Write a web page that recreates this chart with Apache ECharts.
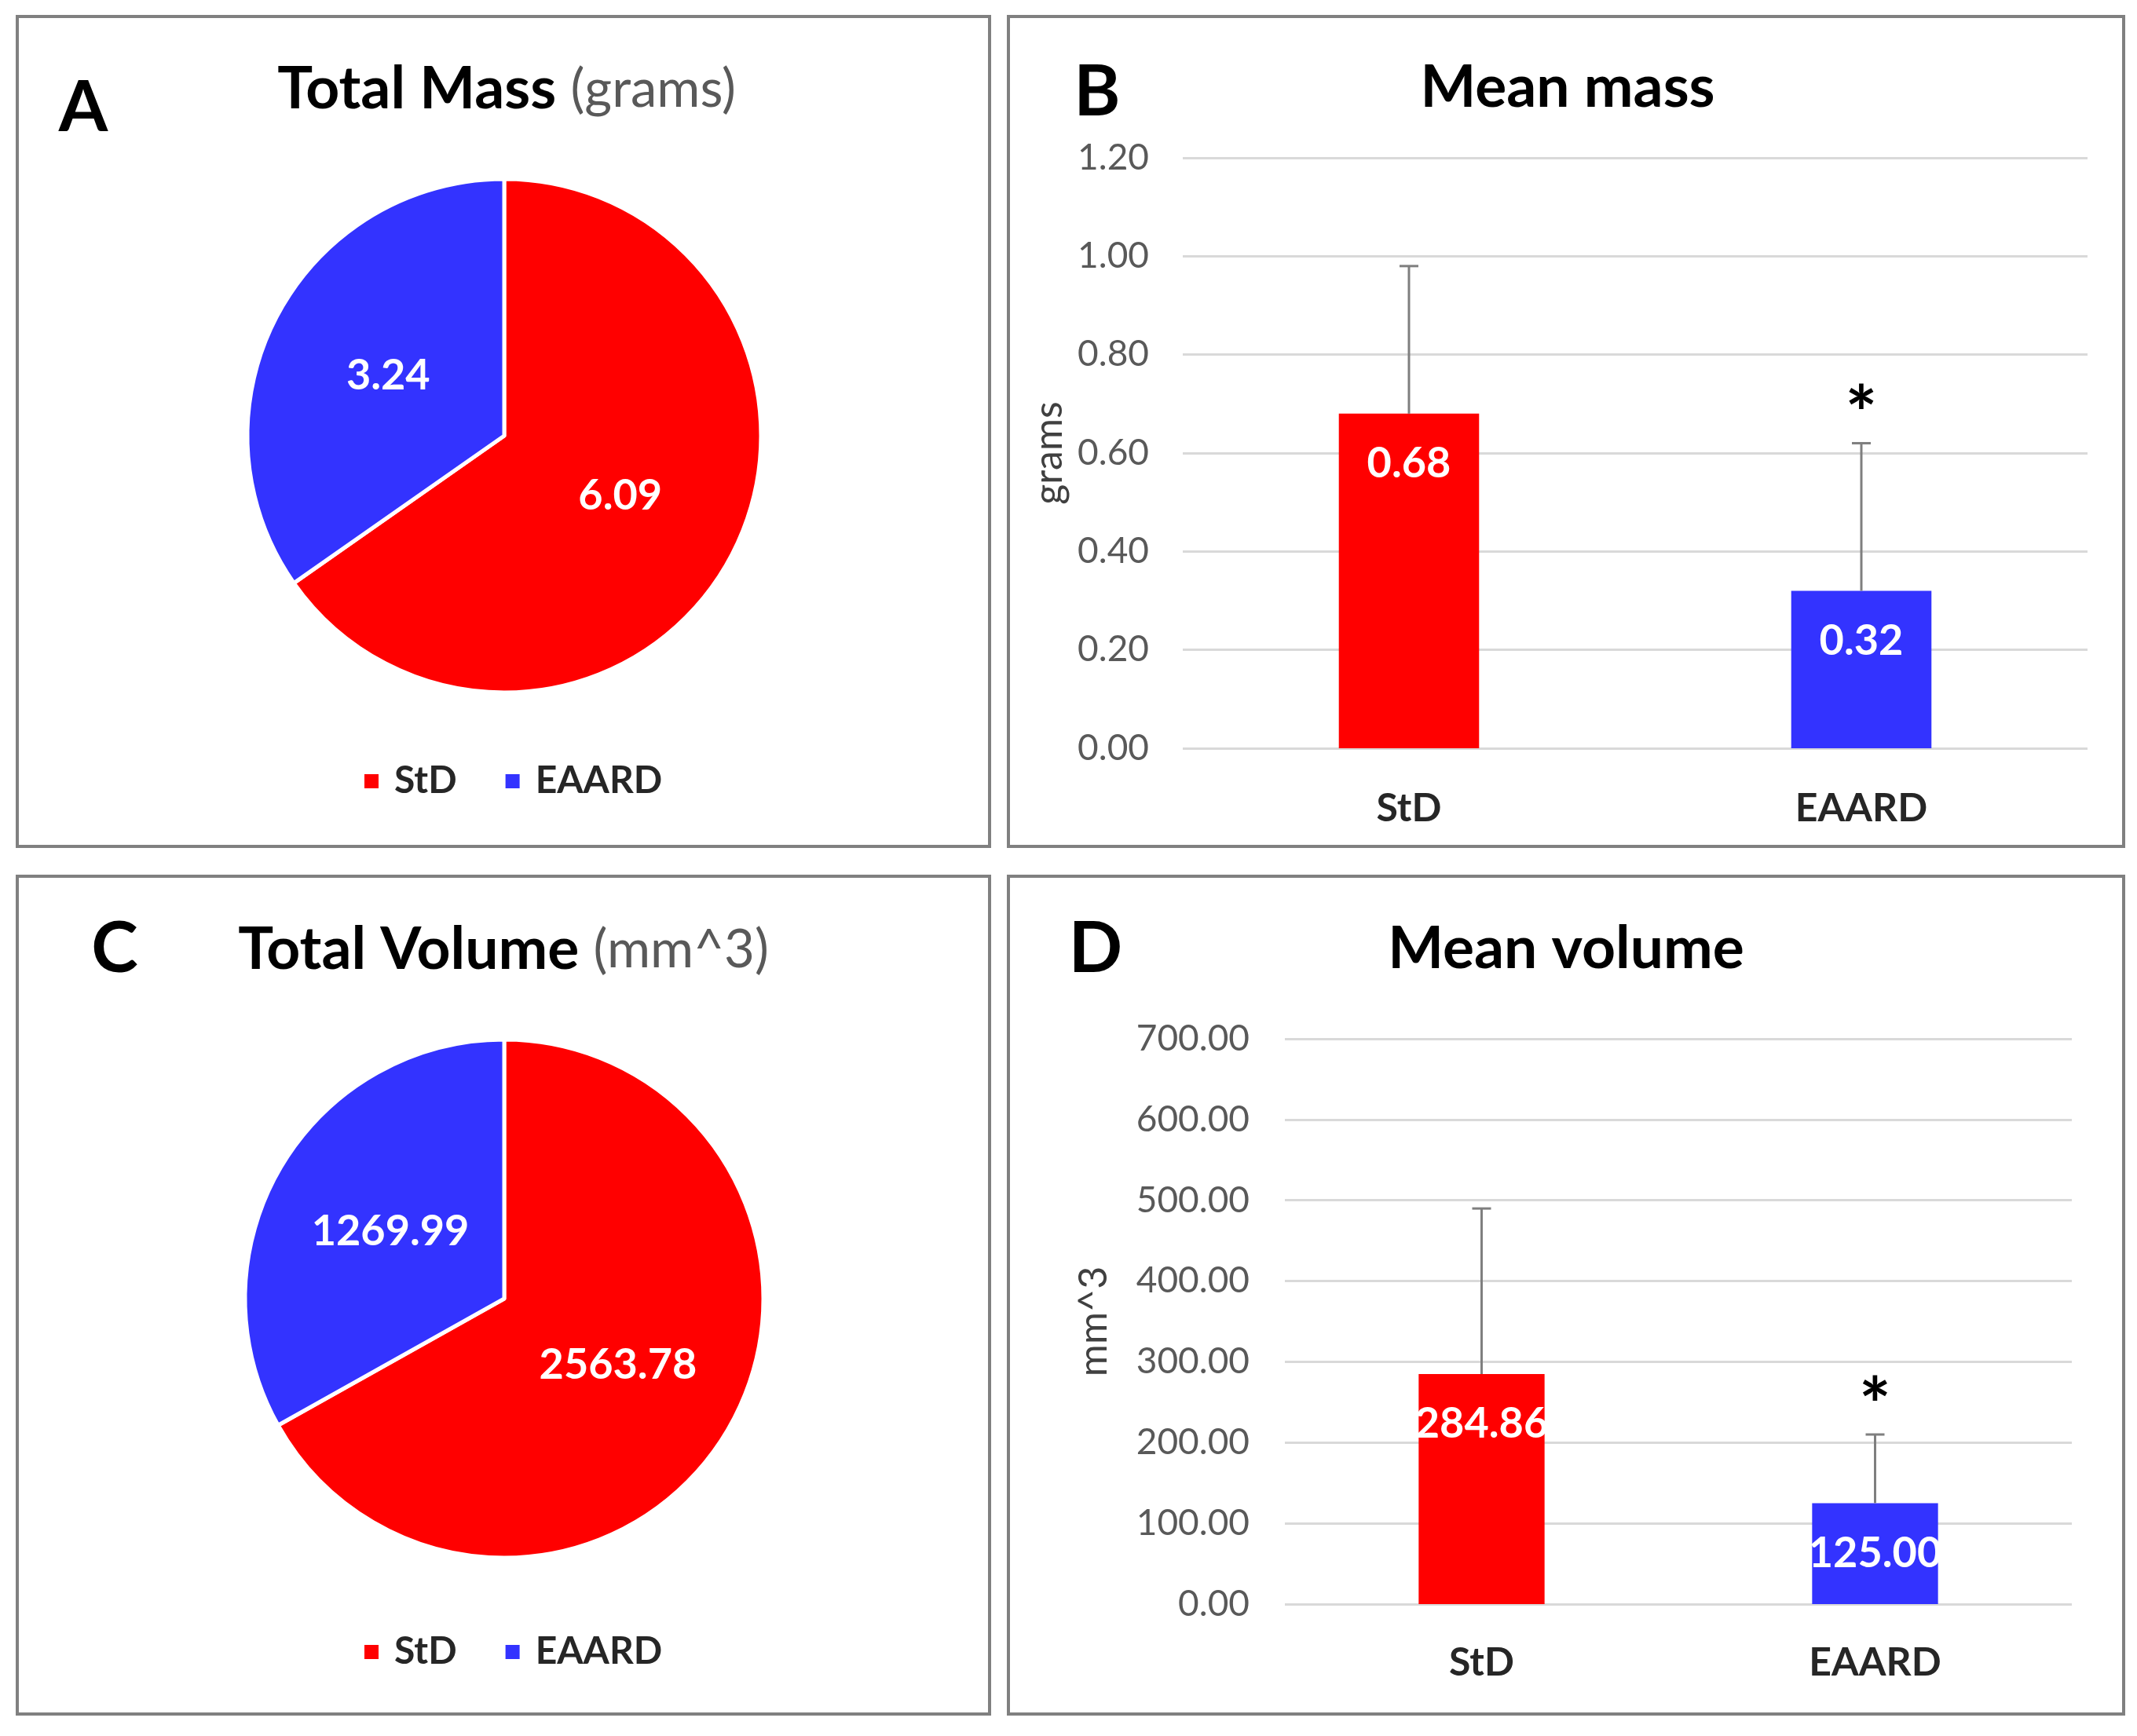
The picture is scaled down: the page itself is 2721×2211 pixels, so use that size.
<!DOCTYPE html>
<html><head><meta charset="utf-8">
<script src="https://cdn.jsdelivr.net/npm/echarts@6/dist/echarts.min.js"></script>
<style>html,body{margin:0;padding:0;background:#fff}#c{width:2721px;height:2211px}</style>
</head><body><div id="c"></div>
<script>
// ---- data ----
const groups = ['StD', 'EAARD'];
const groupColors = ['#ff0000', '#3333ff'];
const totalMass = [6.09, 3.24];
const totalVolume = [2563.78, 1269.99];
const meanMass = [0.68, 0.32];
const meanMassSD = [0.30, 0.30];
const meanVolume = [284.86, 125.00];
const meanVolumeSD = [205, 85];
const significance = ['', '*'];
const massAxis = [0, 1.2, 0.2];      // min, max, interval
const volumeAxis = [0, 700, 100];

// ---- styles ----
const FONT = 'Lato';
const chart = echarts.init(document.getElementById('c'), null, {renderer: 'canvas'});

function pieData(vals) {
  return groups.map((g, i) => ({name: g, value: vals[i], itemStyle: {color: groupColors[i]}}));
}
function barData(vals) {
  return groups.map((g, i) => ({value: vals[i], itemStyle: {color: groupColors[i]}}));
}
function errData(vals, sds) {
  return groups.map((g, i) => [i, vals[i], sds[i]]);
}
function errorBars(params, api) {
  const i = api.value(0), m = api.value(1), sd = api.value(2);
  const b = api.coord([i, m]);
  const t = api.coord([i, m + sd]);
  const children = [
    {type: 'line', shape: {x1: b[0], y1: b[1], x2: t[0], y2: t[1]}, style: {stroke: '#7f7f7f', lineWidth: 3}},
    {type: 'line', shape: {x1: t[0] - 12, y1: t[1], x2: t[0] + 12, y2: t[1]}, style: {stroke: '#7f7f7f', lineWidth: 3}}
  ];
  const s = significance[params.dataIndex];
  if (s) {
    children.push({type: 'text', x: t[0], y: t[1] - 34,
      style: {text: s, font: 'bold 96px ' + FONT, fill: '#000', align: 'center', verticalAlign: 'middle'}});
  }
  return {type: 'group', children};
}

const letterStyle = {fontFamily: FONT, fontWeight: 'bold', fontSize: 90, color: '#000'};
function letter(t, x, y) {
  return {text: t, left: x, top: y, textAlign: 'center', textVerticalAlign: 'middle', padding: 0, textStyle: letterStyle};
}
const richTitle = {
  b: {fontFamily: FONT, fontWeight: 'bold', fontSize: 75, color: '#000'},
  g: {fontFamily: FONT, fontWeight: 'normal', fontSize: 67, color: '#595959'}
};
function mainTitle(text, x, y) {
  return {text: text, left: x, top: y, textAlign: 'center', textVerticalAlign: 'middle', padding: 0,
    textStyle: {fontFamily: FONT, fontWeight: 'bold', fontSize: 75, color: '#000', rich: richTitle}};
}

function legend(top) {
  return {data: groups, left: 462, top: top, orient: 'horizontal', icon: 'rect', itemWidth: 20, itemHeight: 20,
    itemGap: 60, padding: 0, selectedMode: false,
    textStyle: {fontFamily: FONT, fontWeight: 'bold', fontSize: 48, color: '#262626', padding: [0, 0, 0, 14]}};
}

function pie(vals, center, radius) {
  return {type: 'pie', center: center, radius: radius, startAngle: 90, clockwise: true,
    data: pieData(vals), silent: true,
    itemStyle: {borderColor: '#fff', borderWidth: 5},
    label: {show: true, position: 'inside', formatter: p => p.value.toFixed(2),
      color: '#fff', fontFamily: FONT, fontWeight: 'bold', fontSize: 54},
    labelLine: {show: false}, emphasis: {disabled: true}};
}

function yAxis(idx, ax, name, gap, margin) {
  return {type: 'value', gridIndex: idx, min: ax[0], max: ax[1], interval: ax[2],
    name: name, nameLocation: 'middle', nameGap: gap, nameRotate: 90,
    nameTextStyle: {fontFamily: FONT, fontSize: 50, color: '#404040'},
    axisLine: {show: false}, axisTick: {show: false},
    axisLabel: {formatter: v => v.toFixed(2), fontFamily: FONT, fontSize: 46, color: '#595959', margin: margin},
    splitLine: {show: true, lineStyle: {color: '#d9d9d9', width: 3}}};
}
function xAxis(idx, margin) {
  return {type: 'category', gridIndex: idx, data: groups,
    axisLine: {show: false}, axisTick: {show: false},
    axisLabel: {fontFamily: FONT, fontWeight: 'bold', fontSize: 50, color: '#262626', margin: margin}};
}
function bar(idx, vals, width) {
  return {type: 'bar', xAxisIndex: idx, yAxisIndex: idx, data: barData(vals), barWidth: width, silent: true,
    label: {show: true, position: 'insideTop', distance: 37, formatter: p => p.value.toFixed(2),
      color: '#fff', fontFamily: FONT, fontWeight: 'bold', fontSize: 54}, z: 2};
}
function err(idx, vals, sds) {
  return {type: 'custom', xAxisIndex: idx, yAxisIndex: idx, data: errData(vals, sds), renderItem: errorBars, z: 3, silent: true};
}

const panelBorder = (x, y, w, h) => ({type: 'rect', shape: {x: x, y: y, width: w, height: h},
  style: {fill: 'none', stroke: '#808080', lineWidth: 4}, silent: true});

chart.setOption({
  backgroundColor: '#fff',
  animation: false,
  title: [
    letter('A', 106, 138), mainTitle('{b|Total Mass} {g|(grams)}', 645, 114),
    letter('B', 1397, 118), mainTitle('Mean mass', 1996, 112),
    letter('C', 146, 1209), mainTitle('{b|Total Volume} {g|(mm^3)}', 641, 1210),
    letter('D', 1395, 1209), mainTitle('Mean volume', 1994, 1209)
  ],
  legend: [legend(971), legend(2080)],
  grid: [
    {left: 1506, top: 201, width: 1152, height: 752},
    {left: 1636, top: 1323, width: 1002, height: 720}
  ],
  xAxis: [xAxis(0, 52), xAxis(1, 50)],
  yAxis: [yAxis(0, massAxis, 'grams', 145, 43), yAxis(1, volumeAxis, 'mm^3', 218, 45)],
  series: [
    pie(totalMass, [642, 555], 327),
    pie(totalVolume, [642, 1654], 330),
    bar(0, meanMass, '31%'), err(0, meanMass, meanMassSD),
    bar(1, meanVolume, '32%'), err(1, meanVolume, meanVolumeSD)
  ],
  graphic: [
    panelBorder(22, 21, 1238, 1057),
    panelBorder(1284, 21, 1420, 1057),
    panelBorder(22, 1116, 1238, 1067),
    panelBorder(1284, 1116, 1420, 1067)
  ]
});
</script></body></html>
